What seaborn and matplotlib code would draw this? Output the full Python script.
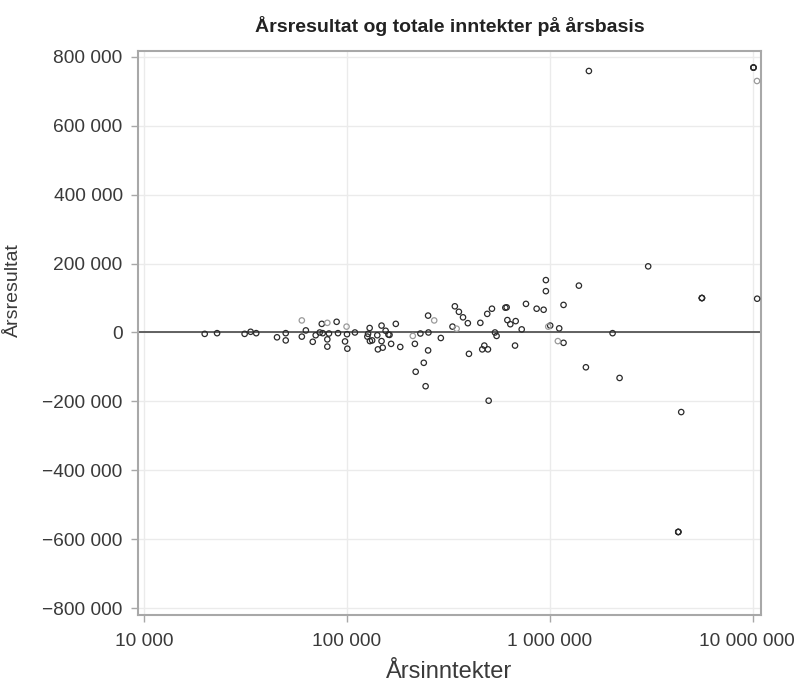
import matplotlib
matplotlib.use("Agg")
import matplotlib.pyplot as plt
import matplotlib.ticker as mticker
import matplotlib.transforms as mtransforms
import seaborn as sns
import pandas as pd

# ---- data ----
inntekter_a = [19900, 22900, 31300, 33500, 35700, 45200, 49900, 49900, 59900, 62700,
               67800, 70100, 73400, 75100, 75900, 80000, 80000, 81500, 88900, 90300,
               100000, 97800, 100400, 109400, 129300, 126000, 127000, 129700, 133000, 141000,
               148000, 148000, 142000, 150000, 155000, 160000, 162000, 165000, 174000, 183000,
               216000, 230000, 239000, 218000, 244000, 251000, 252000, 251000, 290000, 331000,
               340000, 356000, 373000, 394000, 399000, 454000, 464000, 475000, 495000, 491000,
               518000, 536000, 546000, 499000, 603000, 612000, 617000, 638000, 678000, 673000,
               726000, 762000, 860000, 931000, 955000, 955000, 1003000, 1111000, 1167000, 1167000,
               1389000, 1504000, 2036000, 2204000, 3049000, 5610000, 5610000, 5610000, 10500000, 1556000,
               10070000, 10070000, 10070000, 4436000, 4290000, 4290000, 4290000]
resultat_a = [-4000, -2000, -4000, 2000, -2000, -14000, -2000, -23000, -12000, 6000,
              -27000, -8000, 0, 25000, -2000, -20000, -41000, -3000, 31000, -2000,
              -5000, -26000, -47000, 0, 13000, -12000, -4000, -25000, -23000, -8000,
              20000, -25000, -49000, -44000, 5000, -6000, -7000, -33000, 25000, -42000,
              -33000, -3000, -88000, -114000, -156000, 49000, 0, -52000, -16000, 17000,
              76000, 60000, 44000, 27000, -62000, 28000, -49000, -38000, -49000, 54000,
              69000, 0, -10000, -198000, 72000, 73000, 36000, 24000, 33000, -38000,
              9000, 83000, 69000, 66000, 152000, 120000, 20000, 12000, 80000, -30000,
              136000, -101000, -2000, -132000, 192000, 100000, 100000, 100000, 98000, 759000,
              769000, 769000, 769000, -231000, -579000, -579000, -579000]

inntekter_b = [59900, 80000, 99500, 211000, 269000, 347000, 981000, 1094000, 10480000]
resultat_b = [35000, 28000, 17000, -10000, 35000, 11000, 17000, -25000, 730000]

grupper = ["A", "B"]
farger = {"A": "#2b2b2b", "B": "#9a9a9a"}

x_ticks = [10000, 100000, 1000000, 10000000]
y_ticks = [-800000, -600000, -400000, -200000, 0, 200000, 400000, 600000, 800000]

tittel = "Årsresultat og totale inntekter på årsbasis"
x_tittel = "Årsinntekter"
y_tittel = "Årsresultat"

df = pd.concat([
    pd.DataFrame({"inntekter": inntekter_a, "resultat": resultat_a, "gruppe": "A"}),
    pd.DataFrame({"inntekter": inntekter_b, "resultat": resultat_b, "gruppe": "B"}),
], ignore_index=True)

# ---- style ----
sns.set_theme(style="white")
plt.rcParams["font.family"] = ["Liberation Sans", "DejaVu Sans"]
plt.rcParams["axes.unicode_minus"] = True

fig = plt.figure(figsize=(7.98, 6.83), dpi=100)
ax = fig.add_axes([0.1729, 0.0996, 0.7807, 0.8257])

ax.grid(True, color="#ebebeb", linewidth=1.0)
ax.set_axisbelow(True)
ax.axhline(0, color="#555555", linewidth=1.3, zorder=1.5)

sns.scatterplot(data=df, x="inntekter", y="resultat", hue="gruppe",
                hue_order=grupper, palette=farger, s=15, linewidth=0.9,
                legend=False, ax=ax, zorder=3)
for coll in ax.collections:
    fc = coll.get_facecolors()
    coll.set_edgecolors(fc)
    coll.set_facecolors("none")

ax.set_xscale("log")
ax.set_xlim(10 ** 3.97, 10 ** 7.04)
ax.set_ylim(-820000, 817000)
ax.set_xticks(x_ticks)
ax.set_yticks(y_ticks)
ax.xaxis.set_minor_locator(mticker.NullLocator())


def fmt(v, pos=None):
    s = f"{abs(int(round(v))):,}".replace(",", " ")
    return ("\u2212" + s) if v < 0 else s


ax.xaxis.set_major_formatter(mticker.FuncFormatter(fmt))
ax.yaxis.set_major_formatter(mticker.FuncFormatter(fmt))

for sp in ax.spines.values():
    sp.set_color("#a8a8a8")
    sp.set_linewidth(1.5)

ax.tick_params(axis="both", which="major", direction="out", length=5, width=1,
               color="#a8a8a8", labelsize=13.8, labelcolor="#3a3a3a", left=True, bottom=True)
ax.tick_params(axis="y", pad=6)
ax.tick_params(axis="x", pad=8)

# keep the last x tick label inside the figure, as in the reference
fig.canvas.draw()
last = ax.get_xticklabels()[-1]
last.set_transform(last.get_transform() +
                   mtransforms.ScaledTranslation(-6 / 100, 0, fig.dpi_scale_trans))

ax.set_xlabel(x_tittel, fontsize=17, color="#3a3a3a", labelpad=8)
ax.set_ylabel(y_tittel, fontsize=14, color="#3a3a3a")
ax.yaxis.set_label_coords(-0.186, 0.576)
ax.set_title(tittel, fontsize=14, fontweight="bold", color="#222222", pad=14)

fig.savefig("out.png", dpi=100)
